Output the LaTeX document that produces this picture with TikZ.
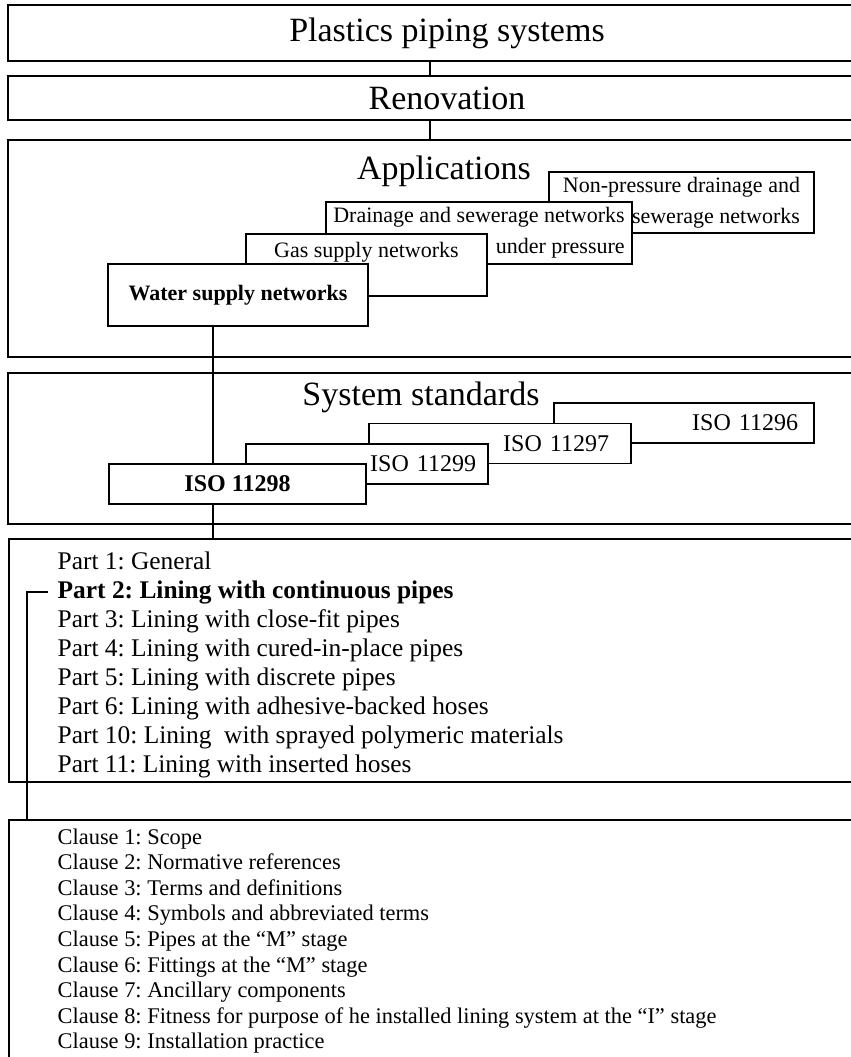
\documentclass[tikz,border=0pt]{standalone}
\usepackage{fontspec}
\setmainfont{Liberation Serif}
\frenchspacing

\tikzset{
  panel/.style={draw,anchor=north west,inner sep=0pt,outer sep=0pt,minimum width=439pt},
  title/.style={font=\fontsize{17}{20}\selectfont},
  appbox/.style={draw,fill=white,inner sep=0pt,outer sep=0pt,align=right,font=\fontsize{11}{15.5}\selectfont},
  isobox/.style={draw,fill=white,inner ysep=0pt,outer sep=0pt,minimum height=20pt,font=\fontsize{12}{14}\selectfont},
  parttext/.style={anchor=base west,inner sep=0pt,font=\fontsize{12.7}{14.5}\selectfont},
  clausetext/.style={anchor=base west,inner sep=0pt,font=\fontsize{11.2}{12.8}\selectfont}
}

\begin{document}
\begin{tikzpicture}
  [x=0.5pt,y=-0.5pt,line width=0.7pt]
  \useasboundingbox (0,0) rectangle (851,1057);
  \clip (0,0) rectangle (851,1057);

  % outer panels
  \node[panel,title,minimum height=28pt] (plastics) at (8,5) {Plastics piping systems};
  \node[panel,title,minimum height=22pt] (renov) at (8,76) {Renovation};
  \node[panel,minimum height=108.5pt] (apps) at (8,140) {};
  \node[panel,minimum height=75.5pt] (sysstd) at (8,373) {};
  \node[panel,minimum height=121.5pt] (parts) at (9,539) {};
  \node[panel,minimum height=150pt] (clauses) at (9,820) {};

  \node[title,anchor=base] (appstitle) at (444,179) {Applications};
  \node[title,anchor=base] (sysstdtitle) at (421,405) {System standards};

  % applications
  \node[appbox,minimum width=132.5pt,minimum height=30.5pt] (nonpress) at (681.5,202.5) {Non-pressure drainage and\\sewerage networks};
  \node[appbox,minimum width=153pt,minimum height=31pt] (drainage) at (479,233) {Drainage and sewerage networks\\under pressure};
  \node[appbox,minimum width=120.5pt,text height=11.5pt,text depth=19.5pt] (gas) at (366.5,265) {Gas supply networks};
  \node[appbox,minimum width=130pt,minimum height=31pt] (water) at (238,295) {\bfseries Water supply networks};

  % system standards
  \node[isobox,text width=114pt,align=right,inner xsep=8pt] (iso96) at (684,423) {ISO 11296};
  \node[isobox,text width=109pt,align=right,inner xsep=11pt] (iso97) at (500,443.5) {ISO 11297};
  \node[isobox,text width=109pt,align=right,inner xsep=6pt] (iso99) at (367,464) {ISO 11299};
  \node[isobox,minimum width=128.5pt] (iso98) at (237.5,484) {\bfseries ISO 11298};

  % parts
  \foreach [count=\n] \t in {Part 1: General,
      \textbf{Part 2: Lining with continuous pipes},
      Part 3: Lining with close-fit pipes,
      Part 4: Lining with cured-in-place pipes,
      Part 5: Lining with discrete pipes,
      Part 6: Lining with adhesive-backed hoses,
      Part 10: Lining\ \ with sprayed polymeric materials,
      Part 11: Lining with inserted hoses}
    \node[parttext] (part\n) at (57,{569+29*(\n-1)}) {\t};

  % clauses
  \foreach [count=\n] \t in {Clause 1: Scope,
      Clause 2: Normative references,
      Clause 3: Terms and definitions,
      Clause 4: Symbols and abbreviated terms,
      Clause 5: Pipes at the “M” stage,
      Clause 6: Fittings at the “M” stage,
      Clause 7: Ancillary components,
      Clause 8: Fitness for purpose of he installed lining system at the “I” stage,
      Clause 9: Installation practice}
    \node[clausetext] (clause\n) at (57,{844+25.6*(\n-1)}) {\t};

  % connectors
  \draw ([xshift=-8.5pt]plastics.south) -- ([xshift=-8.5pt]plastics.south |- renov.north);
  \draw ([xshift=-8.5pt]renov.south) -- ([xshift=-8.5pt]renov.south |- apps.north);
  \draw ([xshift=-12.5pt]water.south) -- ([xshift=-12.5pt]water.south |- iso98.north);
  \draw ([xshift=-12.25pt]iso98.south) -- ([xshift=-12.25pt]iso98.south |- parts.north);
  \draw ([xshift=-4.5pt]part2.west) -| ([xshift=9pt]clauses.north west);
\end{tikzpicture}
\end{document}
